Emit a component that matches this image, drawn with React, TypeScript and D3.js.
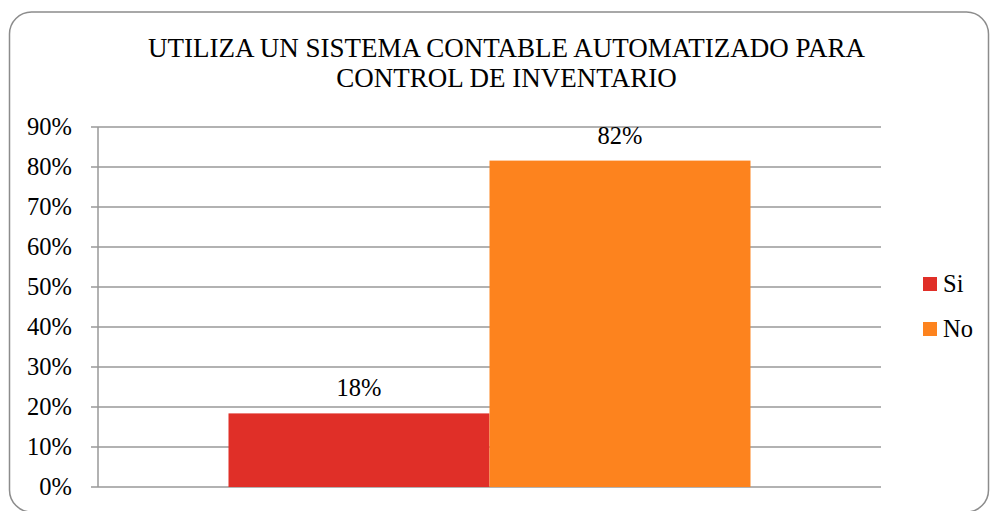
import React from "react";
import * as d3 from "d3";

const titleLines = ["UTILIZA UN SISTEMA CONTABLE AUTOMATIZADO PARA", "CONTROL DE INVENTARIO"];
const categories = ["Cat"];
const seriesNames = ["Si", "No"];
const seriesValues = [0.184, 0.816];
const seriesLabels = ["18%", "82%"];
const seriesColors = ["#E02F28", "#FD831E"];
const yTicks = [0, 0.1, 0.2, 0.3, 0.4, 0.5, 0.6, 0.7, 0.8, 0.9];

const FONT = "Liberation Serif";

export default function App() {
  const W = 990, H = 511;
  const left = 98, right = 881, top = 127, bottom = 487;
  const y = d3.scaleLinear().domain([0, 0.9]).range([bottom, top]);
  const x0 = d3.scaleBand().domain(categories).range([left, right]);
  // group takes 2/3 of the category width (gap width 50%)
  const groupW = x0.bandwidth() / 1.5;
  const groupStart = (x0(categories[0]) as number) + (x0.bandwidth() - groupW) / 2;
  const x1 = d3.scaleBand().domain(seriesNames).range([groupStart, groupStart + groupW]);
  return (
    <svg width={W} height={H} fontFamily={FONT} style={{ position: "absolute", left: 0, top: 0 }}>
      <style>{`text { font-family: "Liberation Serif", "Times New Roman", Tinos, serif; }`}</style>
      <rect x={9.5} y={12} width={979} height={500} rx={22} ry={22} fill="#fff" stroke="#8c8c8c" strokeWidth={1.5} />
      {titleLines.map((t, i) => (
        <text key={i} x={506.5} y={57 + i * 30} textAnchor="middle" fontFamily={FONT} fontSize={27}>{t}</text>
      ))}
      {yTicks.map((t) => (
        <g key={t}>
          <line x1={left - 7} x2={right} y1={y(t)} y2={y(t)} stroke="#999" strokeWidth={1.5} />
          <text x={72} y={y(t) + 8} textAnchor="end" fontFamily={FONT} fontSize={24.5}>{d3.format(".0%")(t)}</text>
        </g>
      ))}
      <line x1={left} x2={left} y1={top} y2={bottom} stroke="#999" strokeWidth={1.5} />
      {seriesNames.map((s, i) => (
        <g key={s}>
          <rect x={x1(s)} y={y(seriesValues[i])} width={x1.bandwidth()} height={bottom - y(seriesValues[i])} fill={seriesColors[i]} />
          <text x={(x1(s) as number) + x1.bandwidth() / 2} y={y(seriesValues[i]) - 17} textAnchor="middle" fontFamily={FONT} fontSize={24.5}>{seriesLabels[i]}</text>
        </g>
      ))}
      {seriesNames.map((s, i) => (
        <g key={"l" + s}>
          <rect x={923} y={277 + i * 45} width={14} height={14} fill={seriesColors[i]} />
          <text x={943} y={292 + i * 45} fontFamily={FONT} fontSize={24.5}>{s}</text>
        </g>
      ))}
    </svg>
  );
}
